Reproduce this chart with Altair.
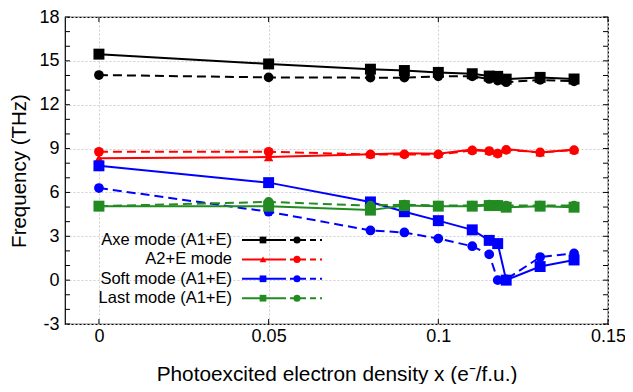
import altair as alt
import pandas as pd

# ---------------- data ----------------
x_vals = [0, 0.05, 0.08, 0.09, 0.1, 0.11, 0.115, 0.1175, 0.12, 0.13, 0.14]

axe_solid = [15.46, 14.79, 14.43, 14.34, 14.21, 14.12, 13.96, 13.94, 13.75, 13.87, 13.76]
axe_dash = [14.03, 13.87, 13.85, 13.85, 13.94, 13.94, 13.76, 13.65, 13.54, 13.70, 13.60]

a2e_solid = [8.33, 8.42, 8.62, 8.68, 8.65, 8.94, 8.85, 8.72, 8.96, 8.74, 8.94]
a2e_dash = [8.78, 8.78, 8.60, 8.60, 8.60, 8.87, 8.83, 8.66, 8.91, 8.74, 8.89]

soft_solid = [7.82, 6.67, 5.35, 4.68, 4.07, 3.44, 2.72, 2.50, 0.0, 0.93, 1.38]
soft_dash = [6.30, 4.68, 3.40, 3.26, 2.84, 2.32, 1.76, 0.0, 0.05, 1.58, 1.83]

last_solid = [5.06, 5.06, 4.79, 5.10, 5.06, 5.06, 5.10, 5.10, 4.99, 5.06, 4.99]
last_dash = [5.06, 5.35, 5.10, 5.17, 5.10, 5.10, 5.17, 5.15, 5.10, 5.10, 5.10]

mode_labels = ["Axe mode (A1+E)", "A2+E mode", "Soft mode (A1+E)", "Last mode (A1+E)"]
mode_colors = ["#000000", "#ff0000", "#0000ff", "#228b22"]
solid_shapes = ["square", "triangle-up", "square", "square"]
solid_series = [axe_solid, a2e_solid, soft_solid, last_solid]
dash_series = [axe_dash, a2e_dash, soft_dash, last_dash]

y_ticks_major = [-3, 0, 3, 6, 9, 12, 15, 18]
y_ticks_minor = list(range(-3, 19))
x_ticks_major = [0, 0.05, 0.1, 0.15]

# ---------------- layout ----------------
W, H = 543, 307
FONT = "Liberation Sans"
xscale = alt.Scale(domain=[-0.01, 0.15], nice=False, zero=False)
yscale = alt.Scale(domain=[-3, 18], nice=False, zero=False)

xaxis = alt.Axis(values=x_ticks_major, format="~g", title="Photoexcited electron density x (e⁻/f.u.)",
                 labelFontSize=18, labelPadding=3, tickSize=0, domain=False, labelFlush=False,
                 grid=True, gridDash=[2, 2], gridColor="#cfcfcf",
                 titleFontSize=20.8, titleFontWeight="normal", titleY=56, titleBaseline="alphabetic",
                 labelFont=FONT, titleFont=FONT, labelColor="black", titleColor="black")
yaxis = alt.Axis(values=y_ticks_major, title="Frequency (THz)",
                 labelExpr="datum.value < 0 ? '-' + abs(datum.value) : '' + datum.value",
                 labelFontSize=18, labelPadding=6, tickSize=0, domain=False, labelFlush=False,
                 grid=True, gridDash=[2, 2], gridColor="#cfcfcf",
                 titleFontSize=20.5, titleFontWeight="normal", titleX=-40, titleY=H / 2,
                 titleBaseline="alphabetic", titleAngle=-90,
                 labelFont=FONT, titleFont=FONT, labelColor="black", titleColor="black")

layers = []

# base layer carrying the axes
base_df = pd.DataFrame({"x": x_vals, "y": axe_solid})
layers.append(
    alt.Chart(base_df).mark_point(opacity=0).encode(
        x=alt.X("x:Q", scale=xscale, axis=xaxis),
        y=alt.Y("y:Q", scale=yscale, axis=yaxis),
    )
)

enc = dict(x=alt.X("x:Q", scale=xscale), y=alt.Y("y:Q", scale=yscale))
for label, color, shp, ssol, sdash in zip(mode_labels, mode_colors, solid_shapes, solid_series, dash_series):
    dsol = pd.DataFrame({"x": x_vals, "y": ssol})
    ddash = pd.DataFrame({"x": x_vals, "y": sdash})
    layers.append(alt.Chart(dsol).mark_line(color=color, strokeWidth=2).encode(**enc))
    layers.append(alt.Chart(dsol).mark_point(color=color, filled=True, opacity=1, shape=shp,
                                              size=120 if shp == "square" else 90).encode(**enc))
    layers.append(alt.Chart(ddash).mark_line(color=color, strokeWidth=2, strokeDash=[9, 5]).encode(**enc))
    layers.append(alt.Chart(ddash).mark_point(color=color, filled=True, opacity=1, shape="circle",
                                               size=95).encode(**enc))

# inward ticks
TL = 5
yt = pd.DataFrame({"y": y_ticks_minor})
xt = pd.DataFrame({"x": x_ticks_major})
layers.append(alt.Chart(yt).mark_rule(color="black", strokeWidth=1).encode(
    y=alt.Y("y:Q", scale=yscale), x=alt.value(0), x2=alt.value(TL)))
layers.append(alt.Chart(yt).mark_rule(color="black", strokeWidth=1).encode(
    y=alt.Y("y:Q", scale=yscale), x=alt.value(W - TL), x2=alt.value(W)))
layers.append(alt.Chart(xt).mark_rule(color="black", strokeWidth=1).encode(
    x=alt.X("x:Q", scale=xscale), y=alt.value(0), y2=alt.value(TL)))
layers.append(alt.Chart(xt).mark_rule(color="black", strokeWidth=1).encode(
    x=alt.X("x:Q", scale=xscale), y=alt.value(H - TL), y2=alt.value(H)))

# legend (inside, lower left)
leg_y0, leg_dy = 223, 19.4
leg = pd.DataFrame({
    "label": mode_labels,
    "color": mode_colors,
    "shape": solid_shapes,
    "ly": [leg_y0 + i * leg_dy for i in range(len(mode_labels))],
})
ly = alt.Y("ly:Q", scale=None, axis=None)
col = alt.Color("color:N", scale=None, legend=None)
layers.append(alt.Chart(leg).mark_text(align="right", baseline="middle", fontSize=16.5, font=FONT,
                                       color="black").encode(text="label:N", x=alt.value(167), y=ly))
layers.append(alt.Chart(leg).mark_rule(strokeWidth=2).encode(x=alt.value(177), x2=alt.value(215), y=ly, color=col))
layers.append(alt.Chart(leg).mark_rule(strokeWidth=2, strokeDash=[6, 4]).encode(
    x=alt.value(215), x2=alt.value(257), y=ly, color=col))
layers.append(alt.Chart(leg).mark_point(filled=True, opacity=1, size=45).encode(
    x=alt.value(198), y=ly, color=col, shape=alt.Shape("shape:N", scale=None, legend=None)))
layers.append(alt.Chart(leg).mark_point(filled=True, opacity=1, size=50, shape="circle").encode(
    x=alt.value(232), y=ly, color=col))

chart = alt.layer(*layers).properties(
    width=W, height=H,
    autosize=alt.AutoSizeParams(type="none"),
    padding={"left": 57, "top": 9, "right": 17, "bottom": 60},
    background="white",
).configure_view(stroke="black", strokeWidth=1.2)

chart.save("out.html", embed_options={"renderer": "svg", "actions": False})
